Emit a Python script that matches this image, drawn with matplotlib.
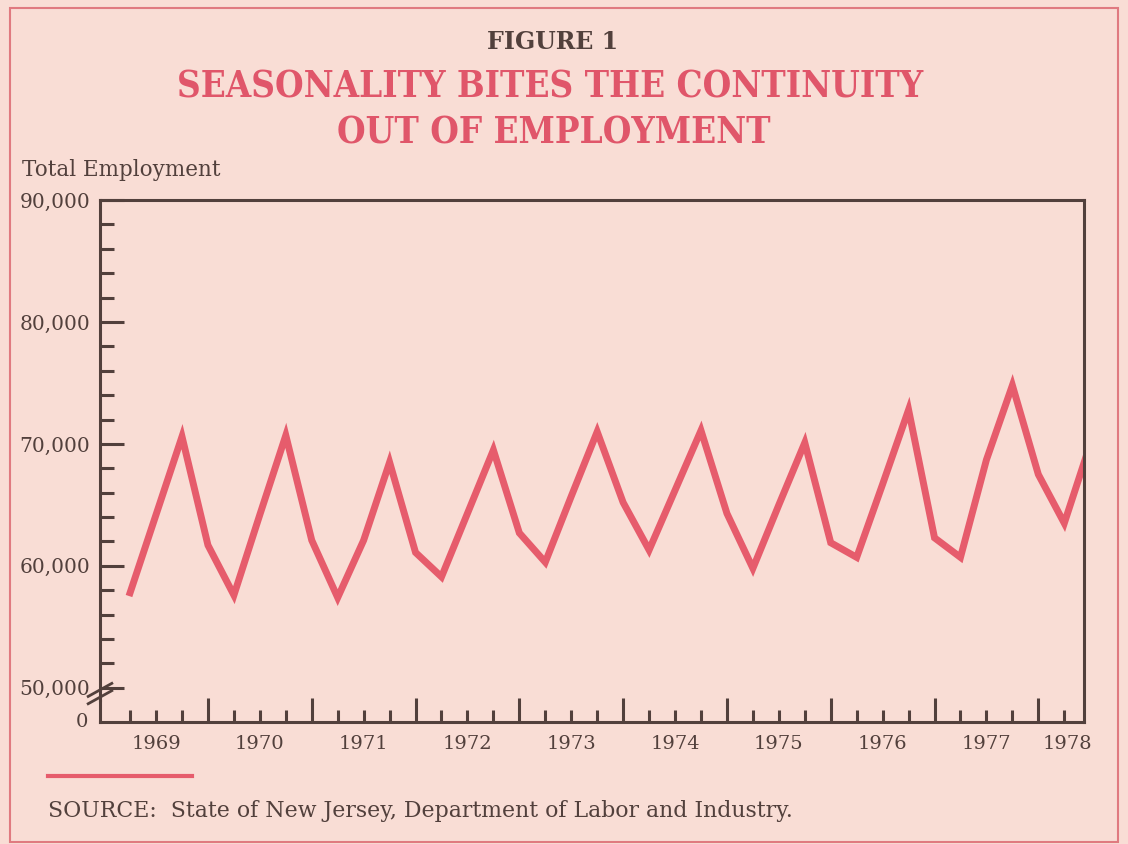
import matplotlib
matplotlib.use('Agg')
import matplotlib.pyplot as plt
from matplotlib.patches import Rectangle
from matplotlib.lines import Line2D
import numpy as np

# quarterly total employment, 1969 - 1978
years = np.arange(1969.25, 1969.25 + 0.25 * 38, 0.25)
employment = [57800, 64200, 70600, 61700, 57600, 64200, 70700, 62100,
              57400, 62100, 68500, 61100, 59100, 64300, 69500, 62700,
              60300, 65700, 71000, 65200, 61300, 66200, 71100, 64300,
              59800, 65000, 70100, 61900, 60700, 66700, 72800, 62300,
              60700, 68700, 74800, 67500, 63500, 70000]
year_labels = ['1969', '1970', '1971', '1972', '1973', '1974', '1975', '1976', '1977', '1978']
label_pos = [1969.5, 1970.5, 1971.5, 1972.5, 1973.5, 1974.5, 1975.5, 1976.5, 1977.5, 1978.28]
y_ticks = [50000, 60000, 70000, 80000, 90000]

bg = '#f9ddd5'
ink = '#52403c'
red = '#e65c6c'
title_red = '#e0566a'

fig = plt.figure(figsize=(11.28, 8.44), dpi=100)
fig.patch.set_facecolor(bg)

# frame round the figure
fig.patches.append(Rectangle((10 / 1128, 2 / 844), 1108 / 1128, 834 / 844, transform=fig.transFigure,
                             fill=False, edgecolor='#e07a80', linewidth=1.5))

ax = fig.add_axes([100 / 1128, 1 - 722 / 844, 984 / 1128, 522 / 844])
ax.set_facecolor(bg)
ax.plot(years, employment, color=red, linewidth=5, solid_joinstyle='miter', clip_on=True)

ax.set_xlim(1968.96, 1978.44)
ax.set_ylim(47200, 90000)

for s in ax.spines.values():
    s.set_color(ink)
    s.set_linewidth(2.2)
ax.spines['left'].set_bounds(49000, 90000)

ax.set_yticks(y_ticks)
ax.set_yticklabels(['50,000', '60,000', '70,000', '80,000', '90,000'])
ax.set_yticks(np.arange(50000, 90001, 2000), minor=True)
ax.tick_params(axis='y', which='major', direction='in', length=17, width=2.2, color=ink,
               labelsize=14.5, labelcolor=ink, pad=7)
ax.tick_params(axis='y', which='minor', direction='in', length=10, width=2.2, color=ink)

ax.set_xticks(np.arange(1970, 1979, 1))
ax.set_xticklabels([])
ax.set_xticks([q for q in np.arange(1969.25, 1978.44, 0.25) if q % 1 != 0], minor=True)
ax.tick_params(axis='x', which='major', direction='in', length=17, width=2.2, color=ink)
ax.tick_params(axis='x', which='minor', direction='in', length=9, width=2.2, color=ink)

for lab, pos in zip(year_labels, label_pos):
    ax.text(pos, -0.025, lab, transform=ax.get_xaxis_transform(), ha='center', va='top',
            fontsize=14, color=ink, family='DejaVu Serif')

for t in ax.get_yticklabels():
    t.set_family('DejaVu Serif')

# axis break and the zero
ax.text(-0.012, 0, '0', transform=ax.transAxes, ha='right', va='center', fontsize=14,
        color=ink, family='DejaVu Serif')
for dy in (0.0, 0.014):
    ax.add_line(Line2D([-0.012, 0.012], [0.035 + dy, 0.06 + dy], transform=ax.transAxes,
                       color=ink, linewidth=2, clip_on=False))
ax.add_line(Line2D([0, 0], [0, 0.04], transform=ax.transAxes, color=ink, linewidth=2.2, clip_on=False))

fig.text(553 / 1128, 1 - 42 / 844, 'FIGURE 1', ha='center', va='center', fontsize=17,
         fontweight='bold', color=ink, family='DejaVu Serif')
fig.text(550 / 1128, 1 - 88 / 844, 'SEASONALITY BITES THE CONTINUITY', ha='center', va='center',
         fontsize=26.3, fontweight='bold', color=title_red, family='DejaVu Serif', fontstretch='condensed')
fig.text(554 / 1128, 1 - 133 / 844, 'OUT OF EMPLOYMENT', ha='center', va='center',
         fontsize=26.3, fontweight='bold', color=title_red, family='DejaVu Serif', fontstretch='condensed')
fig.text(22 / 1128, 1 - 170 / 844, 'Total Employment', ha='left', va='center', fontsize=15.5,
         color=ink, family='DejaVu Serif')

fig.add_artist(Line2D([48 / 1128, 192 / 1128], [1 - 776 / 844, 1 - 776 / 844], transform=fig.transFigure,
                      color=red, linewidth=3))
fig.text(48 / 1128, 1 - 811 / 844, 'SOURCE:  State of New Jersey, Department of Labor and Industry.',
         ha='left', va='center', fontsize=15.8, color=ink, family='DejaVu Serif')

fig.savefig('out.png', dpi=100, facecolor=bg)
